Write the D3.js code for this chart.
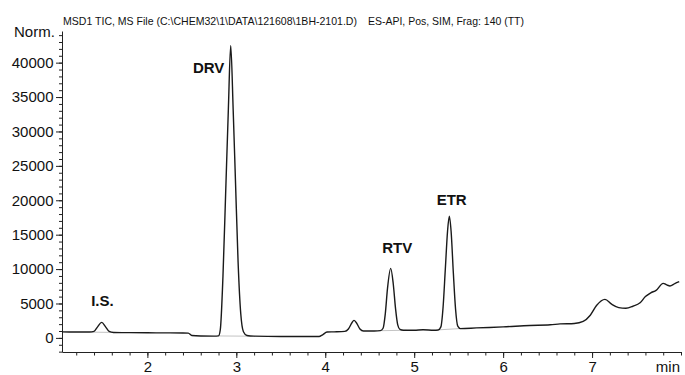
<!DOCTYPE html>
<html>
<head>
<meta charset="utf-8">
<script src="https://cdn.jsdelivr.net/npm/d3@7"></script>
<style>
	body{margin:0;background:#fff;}
	svg{display:block;font-family:"Liberation Sans",Arial,sans-serif;}
</style>
</head>
<body>
<div class="chrom"></div>
<script>
// chromatogram trace (time in min, signal in counts)
var traceT=[1.04,1.20,1.35,1.40,1.44,1.486,1.53,1.57,1.62,1.80,2.00,2.20,2.40,2.46,2.50,2.60,2.75,
	2.80,2.82,2.85,2.88,2.91,2.937,2.965,2.99,3.02,3.05,3.08,3.12,3.20,3.50,3.80,3.93,3.97,4.02,
	4.10,4.22,4.26,4.30,4.323,4.35,4.39,4.43,4.55,4.62,4.65,4.675,4.70,4.736,4.765,4.79,4.815,4.84,
	4.88,5.00,5.10,5.22,5.27,5.30,5.325,5.35,5.375,5.395,5.415,5.44,5.465,5.49,5.52,5.70,6.00,6.30,
	6.53,6.64,6.80,6.90,6.98,7.05,7.145,7.22,7.30,7.38,7.46,7.54,7.60,7.66,7.72,7.80,7.84,7.876,7.93,7.98];
var traceV=[870,860,850,950,1600,2250,1600,950,790,760,740,730,720,700,350,280,260,
	300,1200,9000,21000,33000,42500,33000,23000,11000,3500,900,350,250,200,200,200,450,850,
	880,950,1300,2200,2550,2200,1300,1000,1010,1050,1400,3500,7200,10100,7800,4300,1900,1250,
	1120,1120,1180,1120,1150,1600,4500,10000,15500,17700,15500,9500,4200,1700,1350,1450,1600,1800,
	1900,2030,2100,2400,3300,4700,5600,4900,4400,4300,4600,5100,6000,6550,6900,7930,7700,7550,7900,8170];

// integration baselines under the peaks
var intT0=[1.36,2.80,4.635,5.29];
var intV0=[840,280,1050,1180];
var intT1=[1.66,3.15,4.915,5.545];
var intV1=[780,250,1110,1380];

// peak names and where their labels sit (data units)
var peakNames=['I.S.','DRV','RTV','ETR'];
var labelT=[1.495,2.865,4.809,5.421];
var labelV=[4640,38500,12330,19370];
var labelAnchor=['middle','end','middle','middle'];

var yTicks=[0,5000,10000,15000,20000,25000,30000,35000,40000];
var xTicks=[2,3,4,5,6,7];
var title1='MSD1 TIC, MS File (C:\\CHEM32\\1\\DATA\\121608\\1BH-2101.D)';
var title2='ES-API, Pos, SIM, Frag: 140 (TT)';

var width=685,height=375;
var svg=d3.select('div.chrom').append('svg')
	.attr('width',width)
	.attr('height',height);

var x=d3.scaleLinear().domain([1.04,8.0]).range([62,681]);
var y=d3.scaleLinear().domain([-2050,44600]).range([352,31]);

// titles
svg.append('text').attr('x',63).attr('y',24.5)
	.attr('font-size','11px').attr('fill','#111')
	.attr('textLength',294).attr('lengthAdjust','spacingAndGlyphs')
	.text(title1);
svg.append('text').attr('x',368).attr('y',24.5)
	.attr('font-size','11px').attr('fill','#111')
	.attr('textLength',156).attr('lengthAdjust','spacingAndGlyphs')
	.text(title2);

// y axis, minor then major
svg.append('g')
	.attr('transform','translate(62,0)')
	.call(d3.axisLeft(y).tickValues(d3.range(-2000,44001,1000)).tickSize(3).tickSizeOuter(0).tickFormat(''))
	.call(function(g){g.select('.domain').remove();});
var ya=svg.append('g')
	.attr('transform','translate(62,0)')
	.call(d3.axisLeft(y).tickValues(yTicks).tickSize(6).tickPadding(2.5).tickSizeOuter(0).tickFormat(d3.format('d')));
ya.selectAll('text').attr('font-size','15px').attr('fill','#111');

// x axis
svg.append('g')
	.attr('transform','translate(0,352)')
	.call(d3.axisBottom(x).tickValues(d3.range(1.2,8.01,0.2)).tickSize(3.5).tickSizeOuter(0).tickFormat(''))
	.call(function(g){g.select('.domain').remove();});
var xa=svg.append('g')
	.attr('transform','translate(0,352)')
	.call(d3.axisBottom(x).tickValues(xTicks).tickSize(6).tickPadding(3.5).tickSizeOuter(0).tickFormat(d3.format('d')));
xa.selectAll('text').attr('font-size','15px').attr('fill','#111');

svg.selectAll('.domain,.tick line').attr('stroke','#222');

svg.append('text').attr('x',14).attr('y',37)
	.attr('font-size','15px').attr('fill','#111').text('Norm.');
svg.append('text').attr('x',680).attr('y',372)
	.attr('text-anchor','end')
	.attr('font-size','15px').attr('fill','#111').text('min');

// integration baselines
svg.selectAll('.intbase')
	.data(intT0)
	.enter()
	.append('line')
	.attr('class','intbase')
	.attr('x1',function(d,i){return x(intT0[i]);})
	.attr('y1',function(d,i){return y(intV0[i]);})
	.attr('x2',function(d,i){return x(intT1[i]);})
	.attr('y2',function(d,i){return y(intV1[i]);})
	.attr('stroke','#c4c4c4')
	.attr('stroke-width',1);

// trace
var pts=traceT.map(function(t,i){return [t,traceV[i]];});
var line=d3.line()
	.x(function(d){return x(d[0]);})
	.y(function(d){return y(d[1]);})
	.curve(d3.curveMonotoneX);
svg.append('path')
	.datum(pts)
	.attr('d',line)
	.attr('fill','none')
	.attr('stroke','#1a1a1a')
	.attr('stroke-width',1.4)
	.attr('stroke-linejoin','round');

// peak labels
svg.selectAll('.plabel')
	.data(peakNames)
	.enter()
	.append('text')
	.attr('class','plabel')
	.attr('x',function(d,i){return x(labelT[i]);})
	.attr('y',function(d,i){return y(labelV[i]);})
	.attr('text-anchor',function(d,i){return labelAnchor[i];})
	.attr('font-size','15px')
	.attr('font-weight','bold')
	.attr('fill','#111')
	.text(function(d){return d;});
</script>
</body>
</html>
